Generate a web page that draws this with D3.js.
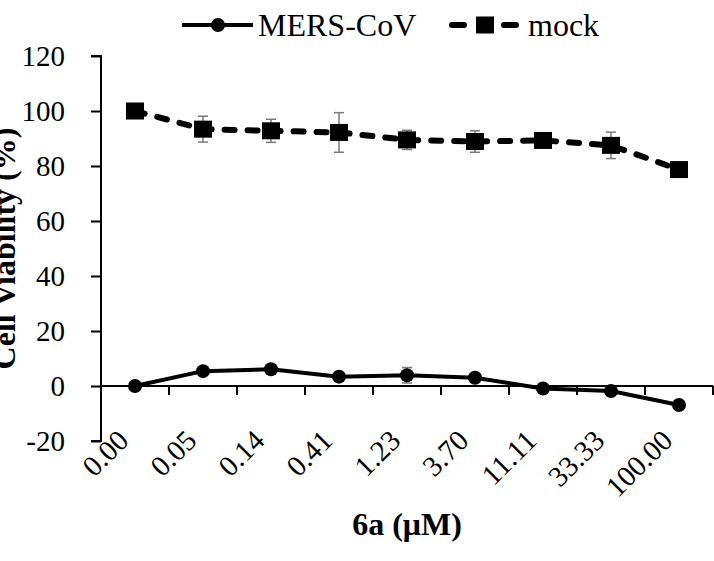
<!DOCTYPE html>
<html>
<head>
<meta charset="utf-8">
<script src="https://cdn.jsdelivr.net/npm/d3@7"></script>
<style>
  html, body { margin: 0; padding: 0; background: #fff; }
  svg { display: block; }
  text { font-family: "Liberation Serif", "Times New Roman", serif; fill: #000; }
</style>
</head>
<body>
<svg id="chart" width="714" height="561"></svg>
<script>
const categories = ["0.00", "0.05", "0.14", "0.41", "1.23", "3.70", "11.11", "33.33", "100.00"];
const mersValues = [0, 5.4, 6.1, 3.4, 3.9, 3.0, -0.9, -1.8, -6.9];
const mersErrors = [0.5, 1.0, 1.0, 1.0, 2.8, 1.0, 1.0, 1.0, 1.5];
const mockValues = [100, 93.4, 92.8, 92.2, 89.5, 88.9, 89.3, 87.5, 78.7];
const mockErrors = [0.5, 4.7, 4.2, 7.2, 3.5, 3.9, 1.5, 4.8, 1.5];
const yTicks = [-20, 0, 20, 40, 60, 80, 100, 120];
const seriesNames = ["MERS-CoV", "mock"];
const xTitle = "6a (\u03BCM)";
const yTitle = "Cell Viability (%)";

(function () {
const svg = d3.select("#chart");
const pL = 101, pR = 713, pT = 56, pB = 441;

const x = d3.scaleBand().domain(categories).range([pL, pR]).padding(0);
const y = d3.scaleLinear().domain([-20, 120]).range([pB, pT]);
const cx = c => x(c) + x.bandwidth() / 2;

const mers = categories.map((c, i) => ({c, v: mersValues[i], e: mersErrors[i]}));
const mock = categories.map((c, i) => ({c, v: mockValues[i], e: mockErrors[i]}));

// Y axis
const yAxis = d3.axisLeft(y).tickValues(yTicks).tickSize(10).tickPadding(26).tickFormat(d => String(d));
const gy = svg.append("g").attr("transform", `translate(${pL},0)`).call(yAxis);
gy.select(".domain").attr("stroke", "#000").attr("stroke-width", 2).attr("d", `M-10,${pT}H0V${pB}H-10`);
gy.selectAll(".tick line").attr("stroke", "#000").attr("stroke-width", 2);
gy.selectAll(".tick text").attr("font-size", 29).attr("font-family", "Liberation Serif, Times New Roman, serif").attr("fill", "#000");

// X axis at y=0
const gx = svg.append("g").attr("transform", `translate(0,${y(0)})`);
gx.append("line").attr("x1", pL).attr("x2", pR).attr("y1", 0).attr("y2", 0)
  .attr("stroke", "#000").attr("stroke-width", 2);
const boundaries = categories.map(c => x(c)).concat([x.range()[1]]);
gx.selectAll("line.tk").data(boundaries.slice(1)).join("line").attr("class", "tk")
  .attr("x1", d => d).attr("x2", d => d).attr("y1", 0).attr("y2", 9)
  .attr("stroke", "#000").attr("stroke-width", 2);

// X tick labels (rotated)
svg.append("g").selectAll("text").data(categories).join("text")
  .attr("transform", d => `translate(${cx(d) - 12},${435}) rotate(-45)`)
  .attr("text-anchor", "end").attr("dy", "0.35em").attr("font-size", 29)
  .text(d => d);

// Error bars
function errorBars(data) {
  const g = svg.append("g").attr("stroke", "#7a7a7a").attr("stroke-width", 1.5);
  data.forEach(d => {
    const px = cx(d.c);
    g.append("line").attr("x1", px).attr("x2", px).attr("y1", y(d.v - d.e)).attr("y2", y(d.v + d.e));
    g.append("line").attr("x1", px - 5).attr("x2", px + 5).attr("y1", y(d.v - d.e)).attr("y2", y(d.v - d.e));
    g.append("line").attr("x1", px - 5).attr("x2", px + 5).attr("y1", y(d.v + d.e)).attr("y2", y(d.v + d.e));
  });
}
errorBars(mers);
errorBars(mock);

const line = d3.line().x(d => cx(d.c)).y(d => y(d.v));

svg.append("path").datum(mock).attr("d", line).attr("fill", "none").attr("stroke", "#000")
  .attr("stroke-width", 6).attr("stroke-dasharray", "10 13").attr("stroke-linecap", "round");
svg.append("path").datum(mers).attr("d", line).attr("fill", "none").attr("stroke", "#000")
  .attr("stroke-width", 4).attr("stroke-linejoin", "round");

svg.append("g").selectAll("rect").data(mock).join("rect")
  .attr("x", d => cx(d.c) - 9).attr("y", d => y(d.v) - 8.5).attr("width", 18).attr("height", 17).attr("fill", "#000");
svg.append("g").selectAll("circle").data(mers).join("circle")
  .attr("cx", d => cx(d.c)).attr("cy", d => y(d.v)).attr("r", 7).attr("fill", "#000");

// Legend
const lg = svg.append("g");
lg.append("line").attr("x1", 182).attr("x2", 253).attr("y1", 25).attr("y2", 25).attr("stroke", "#000").attr("stroke-width", 4);
lg.append("circle").attr("cx", 218).attr("cy", 25).attr("r", 7).attr("fill", "#000");
lg.append("text").attr("x", 258).attr("y", 36).attr("font-size", 32).text(seriesNames[0]);
lg.append("line").attr("x1", 452).attr("x2", 516).attr("y1", 25).attr("y2", 25).attr("stroke", "#000")
  .attr("stroke-width", 6).attr("stroke-dasharray", "12 40").attr("stroke-linecap", "round");
lg.append("rect").attr("x", 476).attr("y", 16.5).attr("width", 18).attr("height", 17).attr("fill", "#000");
lg.append("text").attr("x", 528).attr("y", 36).attr("font-size", 32).text(seriesNames[1]);

// Axis titles
svg.append("text").attr("x", (pL + pR) / 2).attr("y", 535).attr("text-anchor", "middle")
  .attr("font-size", 32).attr("font-weight", "bold").text(xTitle);
svg.append("text").attr("transform", `translate(15,${(pT + pB) / 2}) rotate(-90)`)
  .attr("text-anchor", "middle").attr("font-size", 32).attr("font-weight", "bold").text(yTitle);
})();
</script>
</body>
</html>
